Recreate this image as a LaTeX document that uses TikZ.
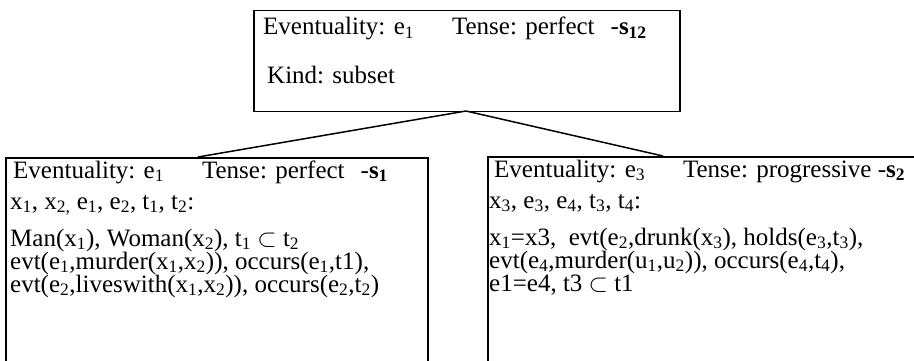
\documentclass[tikz,border=0pt]{standalone}
\usepackage{fontspec}
\setmainfont{Liberation Serif}
\usepackage{tikz}
\usetikzlibrary{positioning}

\newcommand{\sbs}[1]{\textsubscript{#1}}

\begin{document}
\begin{tikzpicture}[x=1pt, y=-1pt,
    box/.style={draw, line width=1.5pt, inner sep=0pt, anchor=north west},
    tree/.style={line width=1.5pt},
    txt/.style={anchor=base west, inner sep=0pt, font=\fontsize{25}{23}\selectfont}]

    % =================================================================
    % 1. FRAME AND MAIN POINTS
    % =================================================================
    \useasboundingbox (0,0) rectangle (914,361);
    \coordinate (Apex) at (466,111);
    \coordinate (LeftJoin) at (198,157);
    \coordinate (RightJoin) at (663,156);

    % =================================================================
    % 2. THE THREE BOXES
    % =================================================================
    \node[box, minimum width=426, minimum height=101] (s12) at (253,10) {};
    \node[box, minimum width=422, minimum height=230] (s1) at (5,157) {};
    \node[box, minimum width=460, minimum height=230] (s2) at (487,156) {};

    % Tree lines from the top box down to the two lower boxes
    \draw[tree] (Apex) -- (LeftJoin);
    \draw[tree] (Apex) -- (RightJoin);

    % =================================================================
    % 3. TEXT OF THE TOP BOX
    % =================================================================
    \node[txt] (s12a) at (263,35) {Eventuality: e\sbs{1}\hspace{38pt}Tense: perfect\hspace{16pt}-\textbf{s\sbs{12}}};
    \node[txt] (s12b) at (267,84) {Kind: subset};

    % =================================================================
    % 4. TEXT OF THE LEFT BOX
    % =================================================================
    \node[txt] (s1a) at (13,178) {Eventuality: e\sbs{1}\hspace{38pt}Tense: perfect\hspace{16pt}-\textbf{s\sbs{1}}};
    \node[txt] (s1b) at (10,209) {x\sbs{1}, x\sbs{2,} e\sbs{1}, e\sbs{2}, t\sbs{1}, t\sbs{2}:};
    \node[txt] (s1c) at (10,246) {Man(x\sbs{1}), Woman(x\sbs{2}), t\sbs{1} $\subset$ t\sbs{2}};
    \node[txt] (s1d) at (10,269) {evt(e\sbs{1},murder(x\sbs{1},x\sbs{2})), occurs(e\sbs{1},t1),};
    \node[txt] (s1e) at (10,292) {evt(e\sbs{2},liveswith(x\sbs{1},x\sbs{2})), occurs(e\sbs{2},t\sbs{2})};

    % =================================================================
    % 5. TEXT OF THE RIGHT BOX
    % =================================================================
    \node[txt] (s2a) at (494,177) {Eventuality: e\sbs{3}\hspace{38pt}Tense: progressive -\textbf{s\sbs{2}}};
    \node[txt] (s2b) at (489,208) {x\sbs{3}, e\sbs{3}, e\sbs{4}, t\sbs{3}, t\sbs{4}:};
    \node[txt] (s2c) at (489,245) {x\sbs{1}=x3,\ \ evt(e\sbs{2},drunk(x\sbs{3}), holds(e\sbs{3},t\sbs{3}),};
    \node[txt] (s2d) at (489,268) {evt(e\sbs{4},murder(u\sbs{1},u\sbs{2})), occurs(e\sbs{4},t\sbs{4}),};
    \node[txt] (s2e) at (489,291) {e1=e4, t3 $\subset$ t1};

\end{tikzpicture}
\end{document}
